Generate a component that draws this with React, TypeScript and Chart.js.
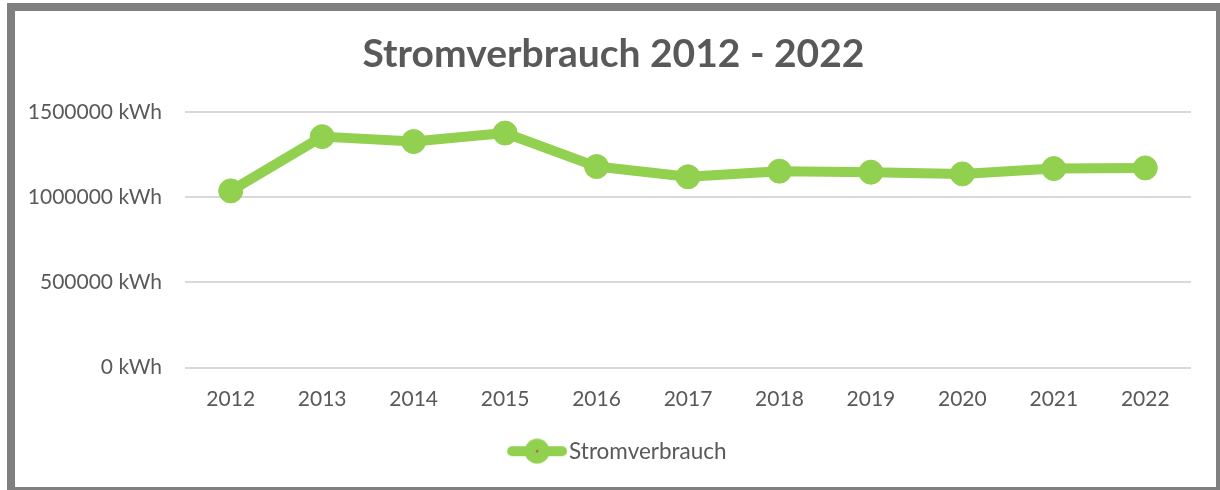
import { useEffect, useRef } from "react";
import { Chart, registerables } from "chart.js";

Chart.register(...registerables);

const chartTitle = "Stromverbrauch 2012 - 2022";
const seriesName = "Stromverbrauch";
const years = ["2012", "2013", "2014", "2015", "2016", "2017", "2018", "2019", "2020", "2021", "2022"];
const consumption = [1038000, 1357000, 1328000, 1378000, 1181000, 1121000, 1154000, 1148000, 1138000, 1169000, 1173000];
const yTickValues = [0, 500000, 1000000, 1500000];
const unit = " kWh";

const GREEN = "#92D050";
const TEXT = "#595959";
const FRAME = "#808080";
const FONT = "Lato, 'Open Sans', sans-serif";

function makeLegendMarker(): HTMLCanvasElement {
  // 16px transparent margin on the left so the marker sits closer to the text
  const c = document.createElement("canvas");
  c.width = 76;
  c.height = 26;
  const g = c.getContext("2d")!;
  const ox = 16;
  g.strokeStyle = GREEN;
  g.lineWidth = 10;
  g.lineCap = "round";
  g.beginPath();
  g.moveTo(ox + 5, 13);
  g.lineTo(ox + 55, 13);
  g.stroke();
  g.fillStyle = GREEN;
  g.beginPath();
  g.arc(ox + 30, 13, 12.5, 0, Math.PI * 2);
  g.fill();
  g.fillStyle = "#C0504D";
  g.beginPath();
  g.arc(ox + 30, 13, 1.3, 0, Math.PI * 2);
  g.fill();
  return c;
}

const framePlugin = {
  id: "frame",
  beforeDraw(chart: any) {
    const { ctx, width, height } = chart;
    ctx.save();
    ctx.fillStyle = "#ffffff";
    ctx.fillRect(0, 0, width, height);
    ctx.fillStyle = FRAME;
    ctx.fillRect(7, 3, 8, height - 3);
    ctx.fillRect(7, 3, width - 7, 8);
    ctx.fillRect(width - 4, 3, 4, height - 3);
    ctx.fillRect(7, height - 3, width - 7, 3);
    ctx.restore();
  },
};

// let the y tick labels extend left of the axis box without being clipped
const unclipYPlugin = {
  id: "unclipY",
  afterLayout(chart: any) {
    const y = chart.scales.y;
    if (y) y.left = 0;
  },
};

export default function App() {
  const ref = useRef<HTMLCanvasElement | null>(null);

  useEffect(() => {
    document.body.style.margin = "0";
    let chart: Chart | null = null;
    let cancelled = false;
    const build = () => {
      if (cancelled || !ref.current) return;
      const marker = makeLegendMarker();
      chart = new Chart(ref.current, {
        type: "line",
        data: {
          labels: years,
          datasets: [
            {
              label: seriesName,
              data: consumption,
              borderColor: GREEN,
              backgroundColor: GREEN,
              borderWidth: 10,
              borderCapStyle: "round",
              borderJoinStyle: "round",
              pointRadius: 12,
              pointBorderWidth: 1,
              pointBackgroundColor: GREEN,
              pointBorderColor: GREEN,
              tension: 0,
            },
          ],
        },
        options: {
          responsive: false,
          animation: false,
          devicePixelRatio: 1,
          layout: { padding: { top: 0, left: 36, right: 29, bottom: 17.5 } },
          plugins: {
            tooltip: { enabled: false },
            title: {
              display: true,
              text: chartTitle,
              color: TEXT,
              font: { family: FONT, size: 39, weight: "bold" },
              padding: { top: 31, bottom: 34.5 },
            },
            legend: {
              display: true,
              position: "bottom",
              labels: {
                usePointStyle: true,
                pointStyleWidth: 57.5,
                padding: 10,
                color: TEXT,
                font: { family: FONT, size: 22.5 },
                generateLabels: (c: any) =>
                  Chart.defaults.plugins.legend.labels
                    .generateLabels(c)
                    .map((l: any) => ({ ...l, pointStyle: marker, fontColor: TEXT })),
              },
            },
          },
          scales: {
            x: {
              type: "category",
              offset: true,
              grid: { display: false, drawTicks: false },
              border: { display: false },
              ticks: {
                color: TEXT,
                font: { family: FONT, size: 21 },
                padding: 19,
                maxRotation: 0,
                autoSkip: false,
              },
              afterFit: (s: any) => {
                s.height = 62.5;
              },
            },
            y: {
              min: yTickValues[0],
              max: yTickValues[yTickValues.length - 1],
              afterBuildTicks: (s: any) => {
                s.ticks = yTickValues.map((v) => ({ value: v }));
              },
              grid: { color: "#D9D9D9", lineWidth: 2, drawTicks: false },
              border: { display: false },
              ticks: {
                color: TEXT,
                font: { family: FONT, size: 21 },
                padding: 23,
                callback: (v: any) => `${v}${unit}`,
              },
              afterFit: (s: any) => {
                s.width = 149;
              },
            },
          },
        },
        plugins: [framePlugin, unclipYPlugin],
      });
    };
    const fontsReady = (document as any).fonts
      ? Promise.all([
          (document as any).fonts.load(`21px Lato`),
          (document as any).fonts.load(`bold 39px Lato`),
        ]).catch(() => null)
      : Promise.resolve(null);
    fontsReady.then(build);
    return () => {
      cancelled = true;
      if (chart) chart.destroy();
    };
  }, []);

  return (
    <div style={{ width: 1220, height: 490 }}>
      <canvas ref={ref} width={1220} height={490} style={{ display: "block", width: 1220, height: 490 }} />
    </div>
  );
}
